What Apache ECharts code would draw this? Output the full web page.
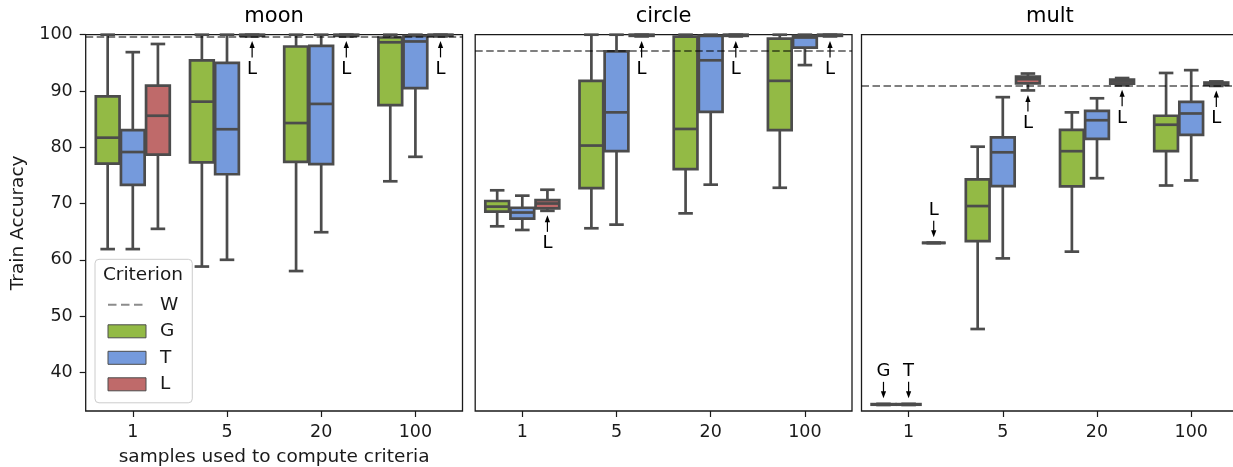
<!DOCTYPE html>
<html><head><meta charset="utf-8">
<script src="https://cdn.jsdelivr.net/npm/echarts@6/dist/echarts.min.js"></script>
<style>html,body{margin:0;padding:0;background:#fff}#c{width:1233px;height:467px}</style>
</head><body><div id="c"></div><script>
// ---------------- data ----------------
const categories = ['1', '5', '20', '100'];
const panelTitles = ['moon', 'circle', 'mult'];
const hueNames = ['G', 'T', 'L'];
const yTicks = [40, 50, 60, 70, 80, 90, 100];
// each row: [low whisker, Q1, median, Q3, high whisker] for categories 1, 5, 20, 100
const moonG = [[61.9, 77.1, 81.7, 89.05, 100], [58.8, 77.3, 88.1, 95.45, 100], [58.0, 77.4, 84.3, 97.9, 100], [73.95, 87.5, 98.65, 99.5, 100]];
const moonT = [[61.9, 73.3, 79.15, 83.06, 96.9], [60.0, 75.2, 83.2, 95.0, 100], [64.9, 77.0, 87.7, 98.0, 100], [78.3, 90.5, 98.8, 99.8, 100]];
const moonL = [[65.5, 78.7, 85.6, 90.95, 98.35], [99.7, 99.8, 99.9, 100, 100], [99.7, 99.8, 99.9, 100, 100], [99.7, 99.8, 99.9, 100, 100]];
const circleG = [[65.95, 68.55, 69.45, 70.45, 72.35], [65.6, 72.75, 80.3, 91.8, 100], [68.25, 76.1, 83.25, 99.65, 100], [72.8, 83.05, 91.8, 99.3, 100]];
const circleT = [[65.3, 67.3, 68.4, 69.25, 71.4], [66.25, 79.3, 86.2, 97.05, 100], [73.35, 86.3, 95.45, 99.8, 100], [94.6, 97.7, 99.5, 99.8, 100]];
const circleL = [[68.7, 69.15, 70.0, 70.6, 72.45], [99.7, 99.8, 99.9, 100, 100], [99.7, 99.8, 99.9, 100, 100], [99.7, 99.8, 99.9, 100, 100]];
const multG = [[34.2, 34.25, 34.3, 34.35, 34.4], [47.7, 63.3, 69.55, 74.3, 80.1], [61.45, 73.05, 79.3, 83.1, 86.2], [73.2, 79.3, 84.0, 85.6, 93.2]];
const multT = [[34.2, 34.25, 34.3, 34.35, 34.4], [60.25, 73.1, 79.1, 81.75, 88.9], [74.5, 81.5, 84.8, 86.45, 88.7], [74.1, 82.2, 86.0, 88.05, 93.7]];
const multL = [[62.95, 63.0, 63.0, 63.0, 63.05], [90.1, 91.35, 92.1, 92.55, 93.1], [91.0, 91.3, 91.7, 92.0, 92.3], [90.9, 91.1, 91.3, 91.5, 91.7]];
const wValues = [99.65, 97.1, 91.0];
// annotations: [panel, category index, hue, direction]
const annotations = [
  [0, 1, 'L', 'up'], [0, 2, 'L', 'up'], [0, 3, 'L', 'up'],
  [1, 0, 'L', 'up'], [1, 1, 'L', 'up'], [1, 2, 'L', 'up'], [1, 3, 'L', 'up'],
  [2, 0, 'G', 'down'], [2, 0, 'T', 'down'], [2, 0, 'L', 'down'],
  [2, 1, 'L', 'up'], [2, 2, 'L', 'up'], [2, 3, 'L', 'up']
];
const panelData = [[moonG, moonT, moonL], [circleG, circleT, circleL], [multG, multT, multL]];

// ---------------- style ----------------
const FONT = 'DejaVu Sans';
const EDGE = '#4c4c4c';
const LW = 2.7;
const hueColors = ['#93ba45', '#759adc', '#bf6a6a'];
const TXT = '#1a1a1a';
const gridLefts = [85.7, 475.2, 861.5];
const GW = 376.8, GTOP = 34.7, GH = 376.3;

function boxRender(hueIdx) {
  return function (params, api) {
    const cat = api.value(0);
    const band = api.size([1, 0])[0];
    const w = band * 0.8 / 3;
    const cx = api.coord([cat, 50])[0] + (hueIdx - 1) * w;
    const y = k => api.coord([cat, api.value(k)])[1];
    const yLo = y(1), yQ1 = y(2), yMed = y(3), yQ3 = y(4), yHi = y(5);
    const hw = w / 2 - 0.7, cap = w * 0.29;
    const ls = { stroke: EDGE, lineWidth: LW };
    return {
      type: 'group', children: [
        { type: 'line', shape: { x1: cx, y1: yQ3, x2: cx, y2: yHi }, style: ls },
        { type: 'line', shape: { x1: cx, y1: yQ1, x2: cx, y2: yLo }, style: ls },
        { type: 'line', shape: { x1: cx - cap, y1: yHi, x2: cx + cap, y2: yHi }, style: ls },
        { type: 'line', shape: { x1: cx - cap, y1: yLo, x2: cx + cap, y2: yLo }, style: ls },
        { type: 'rect', shape: { x: cx - hw, y: yQ3, width: 2 * hw, height: yQ1 - yQ3 }, style: { fill: hueColors[hueIdx], stroke: EDGE, lineWidth: LW } },
        { type: 'line', shape: { x1: cx - hw, y1: yMed, x2: cx + hw, y2: yMed }, style: ls }
      ]
    };
  };
}

function annotRender(list) {
  return function (params, api) {
    const a = list[params.dataIndex];
    const hueIdx = hueNames.indexOf(a[2]);
    const cat = api.value(0);
    const band = api.size([1, 0])[0];
    const w = band * 0.8 / 3;
    const p = api.coord([cat, api.value(1)]);
    const x = p[0] + (hueIdx - 1) * w;
    let tip, tail, ty, head;
    if (a[3] === 'up') {
      tip = p[1] + 4.5; tail = tip + 16.5; ty = tail + 11.5;
      head = [[x, tip], [x - 2.6, tip + 7], [x + 2.6, tip + 7]];
    } else {
      tip = p[1] - 5.5; tail = tip - 16.5; ty = tail - 10.5;
      head = [[x, tip], [x - 2.6, tip - 7], [x + 2.6, tip - 7]];
    }
    return {
      type: 'group', children: [
        { type: 'line', shape: { x1: x, y1: tail, x2: x, y2: (tip + (a[3] === 'up' ? 5 : -5)) }, style: { stroke: '#000', lineWidth: 1.2 } },
        { type: 'polygon', shape: { points: head }, style: { fill: '#000' } },
        { type: 'text', x: x, y: ty, style: { text: a[2], font: '18px "' + FONT + '"', fill: '#000', textAlign: 'center', textVerticalAlign: 'middle' } }
      ]
    };
  };
}

const grids = [], xAxes = [], yAxes = [], series = [], graphics = [];
panelTitles.forEach((t, i) => {
  grids.push({ left: gridLefts[i], top: GTOP, width: GW, height: GH, show: true, borderColor: TXT, borderWidth: 1.3, backgroundColor: 'transparent', containLabel: false, outerBoundsMode: 'none' });
  xAxes.push({
    type: 'category', gridIndex: i, data: categories, boundaryGap: true,
    axisLine: { show: false },
    axisTick: { show: true, alignWithLabel: true, length: 6, lineStyle: { color: TXT, width: 1.2 } },
    axisLabel: { fontFamily: FONT, fontSize: 17.5, color: TXT, margin: 12 },
    splitLine: { show: false },
    name: i === 0 ? 'samples used to compute criteria' : '', nameLocation: 'middle', nameGap: 37,
    nameTextStyle: { fontFamily: FONT, fontSize: 18.5, color: TXT }
  });
  yAxes.push({
    type: 'value', gridIndex: i, min: 33.13, max: 100,
    axisLine: { show: false },
    splitLine: { show: false },
    axisTick: { show: i === 0, length: 6, customValues: yTicks, lineStyle: { color: TXT, width: 1.2 } },
    axisLabel: { show: i === 0, customValues: yTicks, fontFamily: FONT, fontSize: 17.5, color: TXT, margin: 13 },
    name: i === 0 ? 'Train Accuracy' : '', nameLocation: 'middle', nameGap: 58, nameRotate: 90,
    nameTextStyle: { fontFamily: FONT, fontSize: 18.5, color: TXT }
  });
  hueNames.forEach((h, k) => {
    series.push({
      type: 'custom', name: h, xAxisIndex: i, yAxisIndex: i, z: 2,
      itemStyle: { color: hueColors[k] },
      encode: { x: 0, y: [1, 2, 3, 4, 5] },
      data: panelData[i][k].map((d, c) => [c].concat(d)),
      renderItem: boxRender(k)
    });
  });
  series.push({
    type: 'line', name: 'W', xAxisIndex: i, yAxisIndex: i, data: [], symbol: 'none',
    lineStyle: { type: [8.5, 4.5], color: '#8c8c8c', width: 3 }, itemStyle: { color: '#808080' },
    markLine: { silent: true, symbol: 'none', z: 5, label: { show: false }, lineStyle: { type: [7.5, 3.5], color: 'rgba(0,0,0,0.5)', width: 2 }, data: [{ yAxis: wValues[i] }], animation: false }
  });
  const list = annotations.filter(a => a[0] === i);
  series.push({
    type: 'custom', name: 'annot' + i, xAxisIndex: i, yAxisIndex: i, z: 6, silent: true,
    encode: { x: 0, y: 1 },
    data: list.map(a => {
      const row = panelData[i][hueNames.indexOf(a[2])][a[1]];
      return [a[1], a[3] === 'up' ? row[0] : row[4]];
    }),
    renderItem: annotRender(list)
  });
  graphics.push({ type: 'text', x: gridLefts[i] + GW / 2, y: 16.5, z: 100, style: { text: t, font: '21px "' + FONT + '"', fill: '#000', textAlign: 'center', textVerticalAlign: 'middle' } });
});
graphics.push({ type: 'text', x: 143, y: 275, z: 100, style: { text: 'Criterion', font: '18.5px "' + FONT + '"', fill: TXT, textAlign: 'center', textVerticalAlign: 'middle' } });

const chart = echarts.init(document.getElementById('c'), null, { renderer: 'canvas' });
chart.setOption({
  animation: false,
  backgroundColor: '#fff',
  textStyle: { fontFamily: FONT },
  grid: grids, xAxis: xAxes, yAxis: yAxes, series: series, graphic: graphics,
  legend: {
    orient: 'vertical', left: 95, top: 259.3,
    padding: [36, 14, 9, 12],
    itemWidth: 38, itemHeight: 13, itemGap: 7.5,
    borderColor: '#cccccc', borderWidth: 1, borderRadius: 4, backgroundColor: 'rgba(255,255,255,0.85)',
    selectedMode: false,
    textStyle: { fontFamily: FONT, fontSize: 18.5, color: TXT, padding: [0, 0, 0, 9] },
    data: [
      { name: 'W', itemStyle: { color: 'rgba(0,0,0,0)', borderWidth: 0, opacity: 0 } },
      { name: 'G', icon: 'rect', itemStyle: { borderColor: EDGE, borderWidth: 1 } },
      { name: 'T', icon: 'rect', itemStyle: { borderColor: EDGE, borderWidth: 1 } },
      { name: 'L', icon: 'rect', itemStyle: { borderColor: EDGE, borderWidth: 1 } }
    ]
  }
});
</script></body></html>
